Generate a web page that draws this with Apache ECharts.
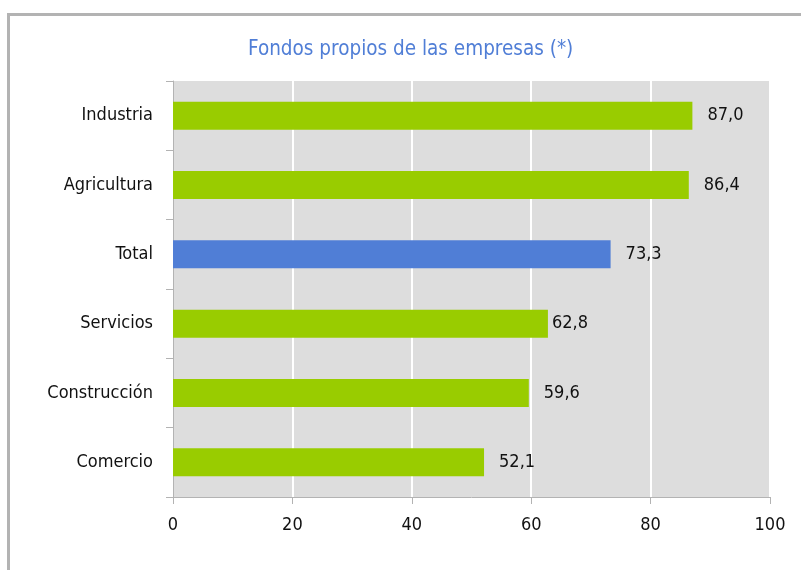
<!DOCTYPE html>
<html>
<head>
<meta charset="utf-8">
<script src="https://cdn.jsdelivr.net/npm/echarts@6/dist/echarts.min.js"></script>
<style>
	html, body { margin: 0; padding: 0; background: #fff; }
	#main { width: 801px; height: 570px; }
</style>
</head>
<body>
<div id="main"></div>
<script>
	// datos del grafico
	var sectores = ['Industria', 'Agricultura', 'Total', 'Servicios', 'Construcción', 'Comercio'];
	var valores = [87.0, 86.4, 73.3, 62.8, 59.6, 52.1];
	var ticksX = [0, 20, 40, 60, 80, 100];

	var verde = '#99cc00';
	var azul = '#507ed6';
	var fuente = "'Liberation Sans Narrow', 'DejaVu Sans Condensed', sans-serif";

	var datos = valores.map(function (v, i) {
		var item = { value: v, itemStyle: { color: sectores[i] === 'Total' ? azul : verde } };
		if (sectores[i] === 'Servicios') item.label = { distance: 4 };
		return item;
	});

	var myChart = echarts.init(document.getElementById('main'));
	var option = {
		animation: false,
		textStyle: { fontFamily: fuente },
		title: {
			text: 'Fondos propios de las empresas (*)',
			left: 243,
			top: 34,
			textStyle: { color: azul, fontSize: 20.5, fontWeight: 'normal', fontFamily: fuente }
		},
		graphic: [{
			type: 'rect',
			z: -1,
			shape: { x: 8.5, y: 14.5, width: 900, height: 700 },
			style: { fill: 'none', stroke: '#b3b3b3', lineWidth: 3 }
		}],
		grid: {
			left: 173, right: 31, top: 81, bottom: 73,
			show: true, backgroundColor: '#dddddd', borderWidth: 0
		},
		xAxis: {
			type: 'value',
			min: ticksX[0],
			max: ticksX[ticksX.length - 1],
			interval: 20,
			axisLine: { show: true, lineStyle: { color: '#b3b3b3', width: 1 } },
			axisTick: { show: true, length: 7, lineStyle: { color: '#b3b3b3' } },
			axisLabel: { color: '#111', fontSize: 18, margin: 19 },
			splitLine: { show: true, lineStyle: { color: '#ffffff', width: 2 } }
		},
		yAxis: {
			type: 'category',
			inverse: true,
			data: sectores,
			axisLine: { show: true, lineStyle: { color: '#b3b3b3', width: 1 } },
			axisTick: { show: true, length: 7, lineStyle: { color: '#b3b3b3' } },
			axisLabel: { color: '#111', fontSize: 18, margin: 20 },
			splitLine: { show: false }
		},
		series: [{
			type: 'bar',
			data: datos,
			barWidth: 28,
			label: {
				show: true,
				position: 'right',
				distance: 15,
				color: '#111',
				fontSize: 18,
				formatter: function (p) { return p.value.toFixed(1).replace('.', ','); }
			}
		}]
	};
	myChart.setOption(option);
	window.addEventListener('resize', function () {
		myChart.resize();
	});
</script>
</body>
</html>
